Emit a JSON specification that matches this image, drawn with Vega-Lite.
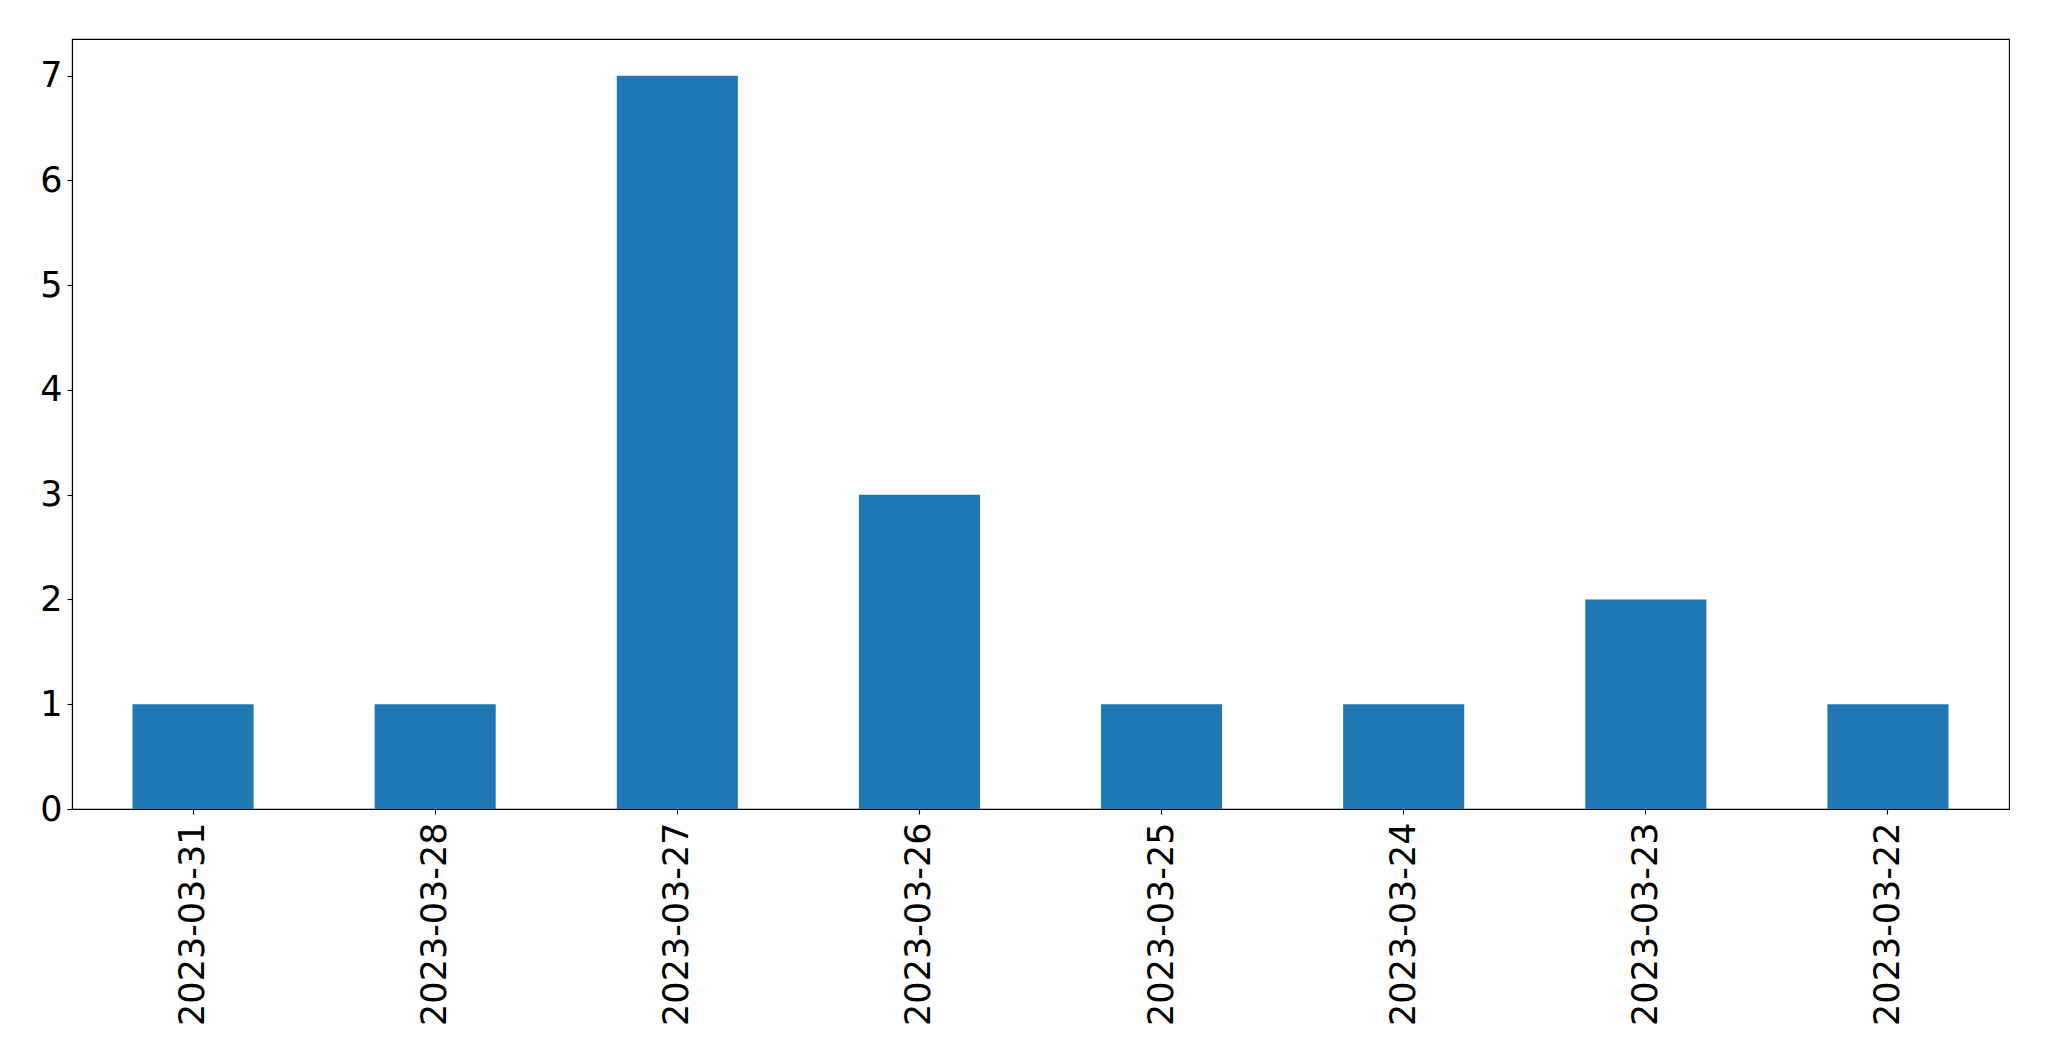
{
  "$schema": "https://vega.github.io/schema/vega-lite/v6.json",
  "width": 1937,
  "height": 770,
  "autosize": {"type": "none"},
  "padding": {"left": 72, "top": 39, "right": 40, "bottom": 252},
  "background": "white",
  "config": {
    "view": {"stroke": "black", "strokeWidth": 1.1},
    "axis": {
      "labelFont": "DejaVu Sans",
      "labelFontSize": 35,
      "labelColor": "black",
      "labelLimit": 0,
      "tickColor": "black",
      "tickSize": 5,
      "tickWidth": 1.1,
      "domainColor": "black",
      "domainWidth": 1.1,
      "grid": false,
      "title": null
    }
  },
  "data": {
    "values": [
      {"date": "2023-03-31", "count": 1},
      {"date": "2023-03-28", "count": 1},
      {"date": "2023-03-27", "count": 7},
      {"date": "2023-03-26", "count": 3},
      {"date": "2023-03-25", "count": 1},
      {"date": "2023-03-24", "count": 1},
      {"date": "2023-03-23", "count": 2},
      {"date": "2023-03-22", "count": 1}
    ]
  },
  "mark": {"type": "bar", "color": "#1f77b4"},
  "encoding": {
    "x": {
      "field": "date",
      "type": "nominal",
      "sort": null,
      "scale": {"paddingInner": 0.5, "paddingOuter": 0.25},
      "axis": {"labelAngle": -90, "labelPadding": 8, "labelAlign": "right", "labelBaseline": "middle"}
    },
    "y": {
      "field": "count",
      "type": "quantitative",
      "scale": {"domain": [0, 7.35], "nice": false, "zero": true},
      "axis": {"values": [0, 1, 2, 3, 4, 5, 6, 7], "labelPadding": 5}
    }
  }
}
